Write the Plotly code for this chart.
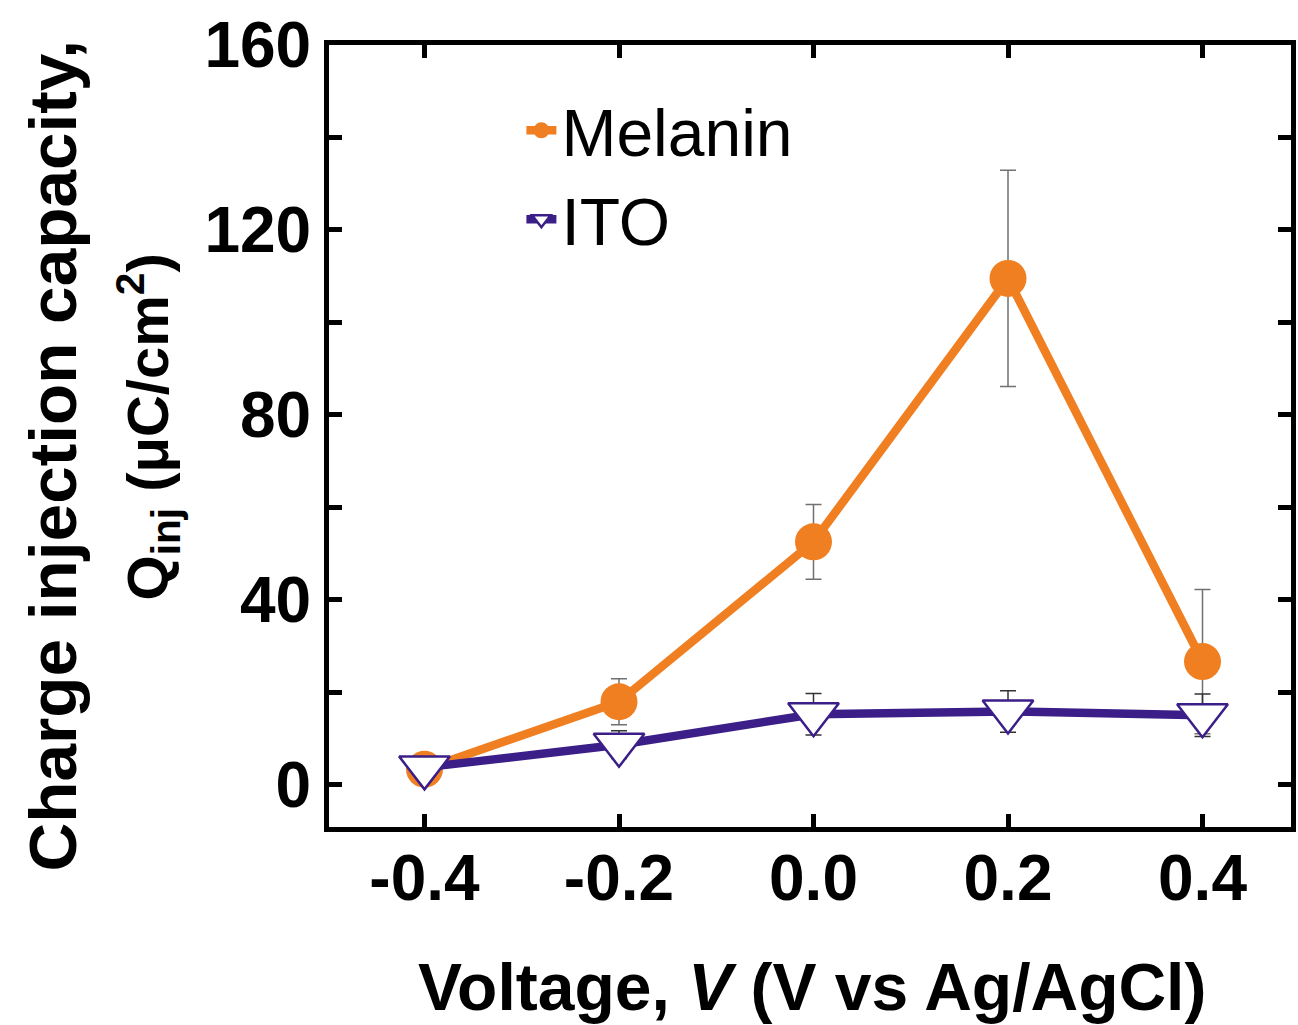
import plotly.graph_objects as go

# ---- data ----
voltage = [-0.4, -0.2, 0.0, 0.2, 0.4]
melanin = [3.3, 17.9, 52.5, 109.5, 26.6]
melanin_err = [2.5, 5.0, 8.1, 23.4, 15.6]
ito = [3.7, 8.6, 15.2, 15.8, 15.0]
ito_err = [2.0, 3.0, 4.5, 4.5, 4.6]

x_tickvals = [-0.4, -0.2, 0.0, 0.2, 0.4]
x_ticktext = ["-0.4", "-0.2", "0.0", "0.2", "0.4"]
y_tickvals = [0, 20, 40, 60, 80, 100, 120, 140, 160]
y_ticktext = ["0", "", "40", "", "80", "", "120", "", "160"]

ORANGE = "#F07F22"
PURPLE = "#3B1E87"
FONT = "Liberation Sans, Arial, Helvetica, sans-serif"

fig = go.Figure()
fig.add_trace(go.Scatter(
    x=voltage, y=melanin, name="Melanin", mode="lines+markers",
    line=dict(color=ORANGE, width=8.5),
    marker=dict(symbol="circle", size=37, color=ORANGE, line=dict(width=0)),
    error_y=dict(type="data", array=melanin_err, visible=True,
                 color="#707070", thickness=1.5, width=8),
))
fig.add_trace(go.Scatter(
    x=voltage, y=ito, name="ITO", mode="lines+markers",
    line=dict(color=PURPLE, width=8.5),
    marker=dict(symbol="triangle-down", size=44, color="white",
                line=dict(color=PURPLE, width=2.5)),
    error_y=dict(type="data", array=ito_err, visible=True,
                 color="#333333", thickness=1.5, width=8),
))

axis_common = dict(
    showline=True, linecolor="black", linewidth=5, mirror="allticks",
    ticks="inside", ticklen=13, tickwidth=5, tickcolor="black",
    showgrid=False, zeroline=False,
    tickfont=dict(family=FONT, size=64, color="black", weight="bold"),
)

fig.update_xaxes(
    range=[-0.4982, 0.491], tickvals=x_tickvals, ticktext=x_ticktext,
    ticklabelstandoff=-9,
    **axis_common,
)
fig.update_yaxes(
    range=[-9.2, 160], tickvals=y_tickvals, ticktext=y_ticktext,
    ticklabelstandoff=0,
    **axis_common,
)

fig.add_annotation(
    text="<b>Voltage, <i>V</i> (V vs Ag/AgCl)</b>",
    xref="paper", yref="paper", x=0.5025, y=-0.2051,
    xanchor="center", yanchor="middle", showarrow=False,
    font=dict(family=FONT, size=66, color="black"),
)
fig.add_annotation(
    text="<b>Charge injection capacity,</b>", textangle=-90,
    xref="paper", yref="paper", x=-0.287, y=0.475,
    xanchor="center", yanchor="middle", showarrow=False,
    font=dict(family=FONT, size=67.5, color="black"),
)
fig.add_annotation(
    text="<b>Q<sub>inj</sub> (μC/cm<sup>2</sup>)</b>", textangle=-90,
    xref="paper", yref="paper", x=-0.1875, y=0.5118,
    xanchor="center", yanchor="middle", showarrow=False,
    font=dict(family=FONT, size=58, color="black"),
)

fig.update_layout(
    width=1298, height=1025,
    margin=dict(l=329, r=2, t=45, b=197.5),
    paper_bgcolor="white", plot_bgcolor="white",
    showlegend=True,
    legend=dict(x=0.2, y=0.954, xanchor="left", yanchor="top",
                bgcolor="rgba(0,0,0,0)",
                font=dict(family=FONT, size=66, color="black"),
                tracegroupgap=0, itemsizing="trace"),
)

fig.write_html(
    "out.html",
    config={"displayModeBar": False},
    post_script="document.body.style.margin='0';document.body.style.overflow='hidden';",
)
